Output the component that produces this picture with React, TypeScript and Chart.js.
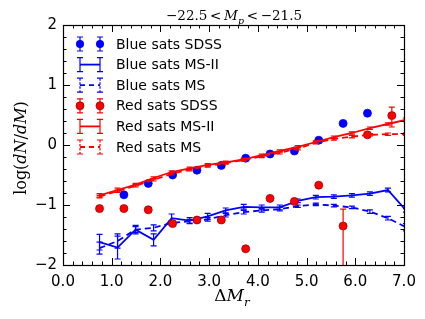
import React, { useEffect, useRef } from "react";
import { Chart, registerables } from "chart.js";
Chart.register(...registerables);

// ---- data ----
const modelX = [0.75, 1.12, 1.49, 1.86, 2.23, 2.6, 2.97, 3.34, 3.71, 4.08, 4.45, 4.82, 5.19, 5.56, 5.93, 6.3, 6.67, 7.04];
const blueMS2 = [-1.62, -1.71, -1.41, -1.58, -1.22, -1.26, -1.19, -1.09, -1.03, -1.04, -1.04, -0.93, -0.87, -0.86, -0.84, -0.81, -0.75, -1.09];
const blueMS2Err = [0.13, 0.19, 0.07, 0.1, 0.07, 0.05, 0.05, 0.04, 0.04, 0.04, 0.04, 0.03, 0.03, 0.03, 0.03, 0.03, 0.03, 0.03];
const blueMS = [-1.72, -1.6, -1.41, -1.38, -1.3, -1.27, -1.24, -1.17, -1.12, -1.09, -1.07, -1.02, -0.99, -1.01, -1.04, -1.11, -1.22, -1.37];
const blueMSErr = [0.1, 0.12, 0.05, 0.05, 0.04, 0.03, 0.03, 0.03, 0.03, 0.03, 0.03, 0.02, 0.02, 0.02, 0.02, 0.03, 0.03, 0.06];
const redMS2 = [-0.84, -0.75, -0.66, -0.55, -0.45, -0.39, -0.33, -0.29, -0.24, -0.17, -0.1, -0.03, 0.05, 0.13, 0.2, 0.28, 0.35, 0.42];
const redMS2Err = [0.03, 0.03, 0.02, 0.02, 0.02, 0.02, 0.02, 0.02, 0.02, 0.02, 0.02, 0.02, 0.02, 0.02, 0.02, 0.02, 0.02, 0.03];
const redMS = [-0.86, -0.77, -0.68, -0.58, -0.48, -0.41, -0.35, -0.3, -0.25, -0.19, -0.13, -0.06, 0.04, 0.1, 0.14, 0.17, 0.18, 0.18];
const redMSErr = [0.02, 0.02, 0.02, 0.02, 0.02, 0.02, 0.02, 0.02, 0.02, 0.02, 0.02, 0.02, 0.02, 0.02, 0.02, 0.02, 0.02, 0.02];

const sdssBlueX = [1.25, 1.75, 2.25, 2.75, 3.25, 3.75, 4.25, 4.75, 5.25, 5.75, 6.25];
const sdssBlueY = [-0.83, -0.64, -0.5, -0.42, -0.34, -0.22, -0.15, -0.1, 0.08, 0.36, 0.53];
const sdssRedX = [0.75, 1.25, 1.75, 2.25, 2.75, 3.25, 3.75, 4.25, 4.75, 5.25, 5.75, 6.25, 6.75];
const sdssRedY = [-1.06, -1.06, -1.08, -1.31, -1.25, -1.25, -1.73, -0.89, -0.94, -0.67, -1.35, 0.17, 0.49];
const sdssRedErrUp = [0, 0, 0, 0, 0, 0, 0, 0, 0, 0, 0.28, 0, 0.14];
const sdssRedErrDown = [0, 0, 0, 0, 0, 0, 0, 0, 0, 0, 1.8, 0, 0.19];

const xTicks = [0, 1, 2, 3, 4, 5, 6, 7];
const yTicks = [-2, -1, 0, 1, 2];

const legendLabels = ["Blue sats SDSS", "Blue sats MS-II", "Blue sats MS", "Red sats SDSS", "Red sats MS-II", "Red sats MS"];

const BLUE = "#0000ff";
const RED = "#ff0000";
const SERIF = "'DejaVu Serif', serif";
const SANS = "'DejaVu Sans', sans-serif";

type Seg = { t: string; it?: boolean; sub?: boolean };
function drawMixed(ctx: CanvasRenderingContext2D, segs: Seg[], cx: number, cy: number, size: number) {
  const fontFor = (s: Seg) => `${s.it ? "italic " : ""}${s.sub ? size * 0.7 : size}px ${SERIF}`;
  const widths = segs.map((s) => {
    ctx.font = fontFor(s);
    return ctx.measureText(s.t).width;
  });
  const total = widths.reduce((a, b) => a + b, 0);
  let x = cx - total / 2;
  segs.forEach((s, i) => {
    ctx.font = fontFor(s);
    ctx.fillText(s.t, x, cy + (s.sub ? size * 0.28 : 0));
    x += widths[i];
  });
}

const pts = (xs: number[], ys: number[]) => xs.map((x, i) => ({ x, y: ys[i] }));

const errorBarPlugin = {
  id: "errbars",
  afterDatasetDraw(chart: any, args: any) {
    const ds: any = chart.data.datasets[args.index];
    if (!ds.errUp) return;
    const { ctx, chartArea: a } = chart;
    const xs = chart.scales.x;
    const ys = chart.scales.y;
    ctx.save();
    ctx.beginPath();
    ctx.rect(a.left, a.top, a.right - a.left, a.bottom - a.top);
    ctx.clip();
    ctx.strokeStyle = ds.errColor;
    ctx.lineWidth = 1.2;
    ds.data.forEach((p: any, i: number) => {
      const up = ds.errUp[i];
      const dn = ds.errDown[i];
      if (!up && !dn) return;
      const px = xs.getPixelForValue(p.x);
      const y1 = ys.getPixelForValue(p.y + up);
      const y2 = ys.getPixelForValue(p.y - dn);
      ctx.beginPath();
      ctx.moveTo(px, y1);
      ctx.lineTo(px, y2);
      ctx.moveTo(px - 3, y1);
      ctx.lineTo(px + 3, y1);
      ctx.moveTo(px - 3, y2);
      ctx.lineTo(px + 3, y2);
      ctx.stroke();
    });
    ctx.restore();
  },
};

const decorPlugin = {
  id: "decor",
  afterDraw(chart: any) {
    const { ctx, chartArea: a } = chart;
    const xs = chart.scales.x;
    const ys = chart.scales.y;
    ctx.save();
    ctx.strokeStyle = "#000";
    ctx.lineWidth = 1;
    // ticks
    ctx.beginPath();
    for (let v = 0; v <= 7.0001; v += 0.2) {
      const major = Math.abs(v - Math.round(v)) < 1e-6;
      const L = major ? 7 : 3.5;
      const px = Math.round(xs.getPixelForValue(v)) + 0.5;
      ctx.moveTo(px, a.bottom);
      ctx.lineTo(px, a.bottom - L);
      ctx.moveTo(px, a.top);
      ctx.lineTo(px, a.top + L);
    }
    for (let v = -2; v <= 2.0001; v += 0.2) {
      const major = Math.abs(v - Math.round(v)) < 1e-6;
      const L = major ? 7 : 3.5;
      const py = Math.round(ys.getPixelForValue(v)) + 0.5;
      ctx.moveTo(a.left, py);
      ctx.lineTo(a.left + L, py);
      ctx.moveTo(a.right, py);
      ctx.lineTo(a.right - L, py);
    }
    ctx.stroke();
    ctx.lineWidth = 1.2;
    ctx.strokeRect(Math.round(a.left) + 0.5, Math.round(a.top) + 0.5, Math.round(a.right - a.left), Math.round(a.bottom - a.top));

    // legend
    const rowY0 = a.top + 19;
    const dy = 20.6;
    const x1 = 80;
    const x2 = 100;
    const drawBar = (x: number, y: number, h: number, dashed: boolean) => {
      ctx.setLineDash(dashed ? [2.5, 1.5] : []);
      ctx.beginPath();
      ctx.moveTo(x, y - h);
      ctx.lineTo(x, y + h);
      ctx.stroke();
      ctx.setLineDash([]);
      ctx.beginPath();
      ctx.moveTo(x - 3, y - h);
      ctx.lineTo(x + 3, y - h);
      ctx.moveTo(x - 3, y + h);
      ctx.lineTo(x + 3, y + h);
      ctx.stroke();
    };
    legendLabels.forEach((label, i) => {
      const y = rowY0 + i * dy;
      const color = i < 3 ? BLUE : RED;
      const kind = i % 3;
      ctx.strokeStyle = color;
      ctx.fillStyle = color;
      ctx.lineWidth = 1.2;
      if (kind === 0) {
        [x1, x2].forEach((x) => {
          drawBar(x, y, 7, false);
          ctx.beginPath();
          ctx.arc(x, y, 4, 0, Math.PI * 2);
          ctx.fillStyle = color;
          ctx.fill();
          if (i >= 3) {
            ctx.strokeStyle = "#a00000";
            ctx.lineWidth = 0.8;
            ctx.stroke();
            ctx.strokeStyle = color;
            ctx.lineWidth = 1.2;
          }
        });
      } else {
        drawBar(x1, y, 7, kind === 2);
        drawBar(x2, y, 7, kind === 2);
        ctx.lineWidth = 1.8;
        ctx.setLineDash(kind === 2 ? [5, 4] : []);
        ctx.beginPath();
        ctx.moveTo(x1, y);
        ctx.lineTo(x2, y);
        ctx.stroke();
        ctx.setLineDash([]);
      }
      ctx.fillStyle = "#000";
      ctx.font = `14px ${SANS}`;
      ctx.textBaseline = "middle";
      ctx.textAlign = "left";
      ctx.fillText(label, 116, y + 1);
    });

    // titles
    ctx.fillStyle = "#000";
    ctx.textBaseline = "alphabetic";
    ctx.textAlign = "left";
    drawMixed(
      ctx,
      [
        { t: "\u221222.5" },
        { t: "\u2009<\u2009" },
        { t: "M", it: true },
        { t: "p", it: true, sub: true },
        { t: "\u2009<\u2009" },
        { t: "\u221221.5" },
      ],
      234,
      20,
      13.5
    );
    drawMixed(ctx, [{ t: "\u0394" }, { t: "M", it: true }, { t: "r", it: true, sub: true }], 232, 301, 17);
    ctx.save();
    ctx.translate(26, 148);
    ctx.rotate(-Math.PI / 2);
    drawMixed(
      ctx,
      [
        { t: "log(" },
        { t: "dN", it: true },
        { t: "/" },
        { t: "dM", it: true },
        { t: ")" },
      ],
      0,
      0,
      16
    );
    ctx.restore();
    ctx.restore();
  },
};

export default function App() {
  const ref = useRef<HTMLCanvasElement>(null);
  useEffect(() => {
    if (!ref.current) return;
    const lineDs = (label: string, ys: number[], err: number[], color: string, dashed: boolean, order: number) => ({
      label,
      data: pts(modelX, ys),
      showLine: true,
      borderColor: color,
      backgroundColor: color,
      borderWidth: 1.8,
      borderDash: dashed ? [6, 4] : [],
      pointRadius: 0,
      tension: 0,
      order,
      errUp: err,
      errDown: err,
      errColor: color,
    });
    const chart = new Chart(ref.current, {
      type: "scatter",
      data: {
        datasets: [
          {
            label: "Blue sats SDSS",
            data: pts(sdssBlueX, sdssBlueY),
            backgroundColor: BLUE,
            borderColor: BLUE,
            borderWidth: 0.8,
            pointRadius: 4,
            showLine: false,
            order: 6,
          },
          lineDs("Blue sats MS-II", blueMS2, blueMS2Err, BLUE, false, 5),
          lineDs("Blue sats MS", blueMS, blueMSErr, BLUE, true, 4),
          {
            label: "Red sats SDSS",
            data: pts(sdssRedX, sdssRedY),
            backgroundColor: RED,
            borderColor: "#a00000",
            borderWidth: 0.8,
            pointRadius: 4,
            showLine: false,
            order: 3,
            errUp: sdssRedErrUp,
            errDown: sdssRedErrDown,
            errColor: RED,
          } as any,
          lineDs("Red sats MS-II", redMS2, redMS2Err, RED, false, 2),
          lineDs("Red sats MS", redMS, redMSErr, RED, true, 1),
        ] as any,
      },
      options: {
        responsive: false,
        animation: false,
        layout: { padding: { top: 25, right: 21, left: 0, bottom: 0 } },
        plugins: { legend: { display: false }, tooltip: { enabled: false }, title: { display: false } },
        scales: {
          x: {
            type: "linear",
            min: 0,
            max: 7,
            afterFit: (s: any) => {
              s.height = 54;
            },
            afterBuildTicks: (s: any) => {
              s.ticks = xTicks.map((v) => ({ value: v }));
            },
            grid: { display: false, drawTicks: false },
            border: { display: false },
            ticks: {
              color: "#000",
              padding: 8,
              font: { family: SANS, size: 15 },
              callback: (v: any) => Number(v).toFixed(1),
              maxRotation: 0,
            },
          },
          y: {
            type: "linear",
            min: -2,
            max: 2,
            afterFit: (s: any) => {
              s.width = 63;
            },
            afterBuildTicks: (s: any) => {
              s.ticks = yTicks.map((v) => ({ value: v }));
            },
            grid: { display: false, drawTicks: false },
            border: { display: false },
            ticks: {
              color: "#000",
              padding: 6,
              font: { family: SANS, size: 15 },
              callback: (v: any) => (Number(v) < 0 ? "\u2212" + Math.abs(Number(v)) : String(v)),
            },
          },
        },
      },
      plugins: [errorBarPlugin, decorPlugin],
    } as any);
    return () => chart.destroy();
  }, []);
  return (
    <div style={{ position: "absolute", left: 0, top: 0, width: 425, height: 319, background: "#fff" }}>
      <canvas ref={ref} width={425} height={319} style={{ display: "block" }} />
    </div>
  );
}
